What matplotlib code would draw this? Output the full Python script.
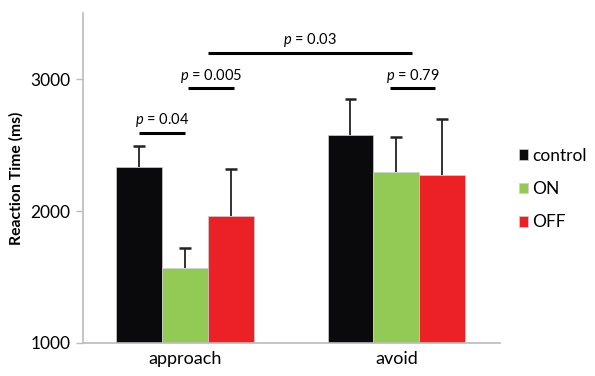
import numpy as np
import matplotlib
matplotlib.use('Agg')
import matplotlib.pyplot as plt

plt.rcParams['font.family'] = ['Lato', 'DejaVu Sans']
plt.rcParams['mathtext.fontset'] = 'custom'
plt.rcParams['mathtext.it'] = 'Lato:italic'
plt.rcParams['mathtext.rm'] = 'Lato'

conditions = ['approach', 'avoid']
groups = ['control', 'ON', 'OFF']
colors = ['#0a0a0c', '#93c955', '#ec2125']

means = {
    'control': [2330, 2580],
    'ON': [1570, 2295],
    'OFF': [1960, 2270],
}
errors = {
    'control': [160, 270],
    'ON': [150, 265],
    'OFF': [360, 425],
}

# significance brackets: (x start, x end, y, label)
brackets = [
    (-0.22, 0.0, 2595, '0.04'),
    (0.015, 0.23, 2930, '0.005'),
    (0.11, 1.075, 3200, '0.03'),
    (0.968, 1.185, 2930, '0.79'),
]

fig = plt.figure(figsize=(5.95, 3.76), dpi=100)
ax = fig.add_axes([0.139, 0.088, 0.701, 0.877])

x = np.arange(len(conditions))
w = 0.217
cap = 0.028
for i, g in enumerate(groups):
    pos = x + (i - 1) * w
    m = np.array(means[g])
    top = m + np.array(errors[g])
    ax.bar(pos, m - 1000, width=w, bottom=1000,
           color=colors[i], edgecolor='#d0d0d0', linewidth=0.5, label=g, zorder=2)
    # upper error bars only
    ax.vlines(pos, m, top, color='#222222', lw=1.3, zorder=3)
    ax.hlines(top, pos - cap, pos + cap, color='#222222', lw=1.8, zorder=3)

for x0, x1, y, lab in brackets:
    ax.plot([x0, x1], [y, y], color='black', lw=2.2, solid_capstyle='butt', zorder=4)
    ax.text((x0 + x1) / 2, y + 25, r'$p$ = ' + lab, ha='center', va='bottom',
            fontsize=10.5)

ax.set_xlim(-0.485, 1.49)
ax.set_ylim(1000, 3500)
ax.set_yticks([1000, 2000, 3000])
ax.set_xticks(x)
ax.set_xticklabels(conditions, fontsize=13)
ax.tick_params(axis='x', length=0, pad=6)
ax.tick_params(axis='y', labelsize=12.5, length=5, color='#bbbbbb', width=1, pad=4)
for s in ['top', 'right']:
    ax.spines[s].set_visible(False)
for s in ['left', 'bottom']:
    ax.spines[s].set_color('#bbbbbb')
    ax.spines[s].set_linewidth(1.2)

ax.set_ylabel('Reaction Time (ms)', fontsize=11.3, fontweight='bold', labelpad=5)

fig.legend(loc='center left', bbox_to_anchor=(0.872, 0.497), frameon=False,
           fontsize=12.5, handlelength=0.55, handleheight=0.55, handletextpad=0.2,
           labelspacing=1.0, borderaxespad=0, borderpad=0)

fig.savefig('out.png', dpi=100)
